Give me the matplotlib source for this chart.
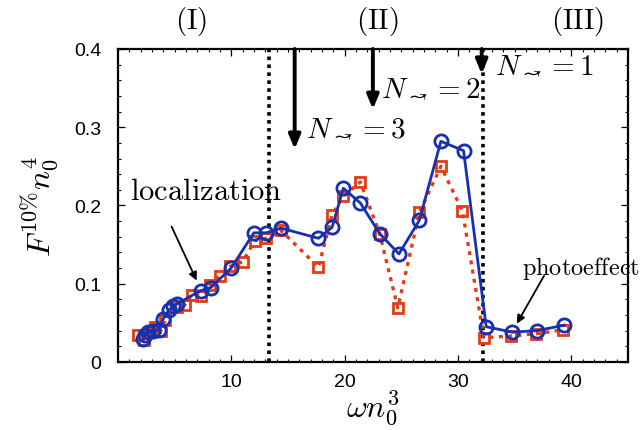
import numpy as np
import matplotlib
matplotlib.use("Agg")
import matplotlib.pyplot as plt
from matplotlib.ticker import MultipleLocator, FixedLocator

plt.rcParams['mathtext.fontset'] = 'cm'
plt.rcParams['font.family'] = ['Liberation Sans', 'DejaVu Sans']

# blue curve (circles, solid)
x_blue = [2.2, 2.4, 2.7, 3.1, 3.6, 4.0, 4.5, 4.9, 5.2, 7.3, 8.2, 10.0, 12.0, 13.1, 14.4,
          17.7, 18.9, 19.9, 21.4, 23.1, 24.8, 26.6, 28.5, 30.5, 32.5, 34.8, 37.0, 39.4]
y_blue = [0.029, 0.034, 0.038, 0.040, 0.041, 0.055, 0.066, 0.071, 0.074, 0.091, 0.095, 0.120,
          0.165, 0.165, 0.171, 0.158, 0.172, 0.222, 0.203, 0.164, 0.138, 0.181, 0.282, 0.270,
          0.045, 0.038, 0.040, 0.047]

# red curve (squares, dotted)
x_red = [1.8, 2.3, 2.8, 3.3, 3.8, 4.2, 5.2, 5.9, 6.5, 7.3, 8.1, 9.0, 9.9, 11.0, 12.1, 13.1,
         14.4, 17.7, 18.9, 19.9, 21.4, 23.1, 24.7, 26.6, 28.5, 30.4, 32.3, 34.7, 36.9, 39.3]
y_red = [0.034, 0.028, 0.038, 0.044, 0.040, 0.054, 0.070, 0.073, 0.086, 0.084, 0.098, 0.110,
         0.122, 0.128, 0.155, 0.158, 0.168, 0.121, 0.188, 0.212, 0.230, 0.164, 0.069, 0.191,
         0.250, 0.193, 0.031, 0.033, 0.036, 0.041]

# region borders and photon-number thresholds
borders = [13.3, 32.2]
regions = ['(I)', '(II)', '(III)']
region_x = [6.5, 22.9, 40.6]
arrow_x = [15.6, 22.5, 32.1]
arrow_tip = [0.272, 0.323, 0.368]
n_labels = [3, 2, 1]
n_label_pos = [(16.6, 0.30), (23.2, 0.351), (33.3, 0.381)]
xticks = [10, 20, 30, 40]
yticks = [0, 0.1, 0.2, 0.3, 0.4]
ytick_labels = ['0', '0.1', '0.2', '0.3', '0.4']

fig = plt.figure(figsize=(6.44, 4.31), dpi=100)
ax = fig.add_axes([0.183, 0.158, 0.792, 0.726])

ax.plot(x_red, y_red, color='#e23c14', ls=(0, (1.2, 1.6)), lw=2.4, marker='s', ms=7,
        mfc='none', mec='#e23c14', mew=2, zorder=2)
ax.plot(x_blue, y_blue, color='#1730b0', ls='-', lw=2, marker='o', ms=9.5,
        mfc='none', mec='#1730b0', mew=2, zorder=3)

for b in borders:
    ax.axvline(b, color='black', ls=(0, (1, 1.2)), lw=2.6, zorder=1)

for xp, tip in zip(arrow_x, arrow_tip):
    ax.annotate('', xy=(xp, tip), xytext=(xp, 0.4),
                arrowprops=dict(arrowstyle='-|>,head_length=0.6,head_width=0.25',
                                color='black', lw=2.8, mutation_scale=14,
                                shrinkA=0, shrinkB=0), zorder=4)

for n, (tx, ty) in zip(n_labels, n_label_pos):
    ax.text(tx, ty, r'$N_{\rightsquigarrow}=%d$' % n, fontsize=21, va='center', ha='left')

for lab, rx in zip(regions, region_x):
    ax.text(rx, 0.437, r'$\mathrm{%s}$' % lab, fontsize=21, ha='center', va='center',
            clip_on=False)

ax.text(7.8, 0.218, r'$\mathrm{localization}$', fontsize=22, ha='center', va='center')
ax.annotate('', xy=(6.95, 0.104), xytext=(4.74, 0.173),
            arrowprops=dict(arrowstyle='-|>', color='black', lw=1.3, mutation_scale=12,
                            shrinkA=0, shrinkB=0))
ax.text(35.7, 0.121, r'$\mathrm{photoeffect}$', fontsize=17.5, ha='left', va='center',
        clip_on=False)
ax.annotate('', xy=(35.2, 0.049), xytext=(37.6, 0.110),
            arrowprops=dict(arrowstyle='-|>', color='black', lw=1.3, mutation_scale=12,
                            shrinkA=0, shrinkB=0))

ax.set_xlim(0, 45)
ax.set_ylim(0, 0.4)
ax.xaxis.set_major_locator(FixedLocator(xticks))
ax.xaxis.set_minor_locator(MultipleLocator(1))
ax.set_yticks(yticks)
ax.set_yticklabels(ytick_labels)
ax.yaxis.set_minor_locator(MultipleLocator(0.02))
ax.tick_params(which='both', direction='in', top=True, right=True, labelsize=14)
ax.tick_params(axis='x', which='major', pad=8)
ax.tick_params(axis='y', which='major', pad=12)
ax.tick_params(which='major', length=5, width=0.9)
ax.tick_params(which='minor', length=2.5, width=0.8)
for s in ax.spines.values():
    s.set_linewidth(1.6)

ax.set_xlabel(r'$\omega n_0^3$', fontsize=23, labelpad=-2)
ax.set_ylabel(r'$F^{10\%}n_0^4$', fontsize=23, labelpad=9)

fig.savefig('out.png', dpi=100)
